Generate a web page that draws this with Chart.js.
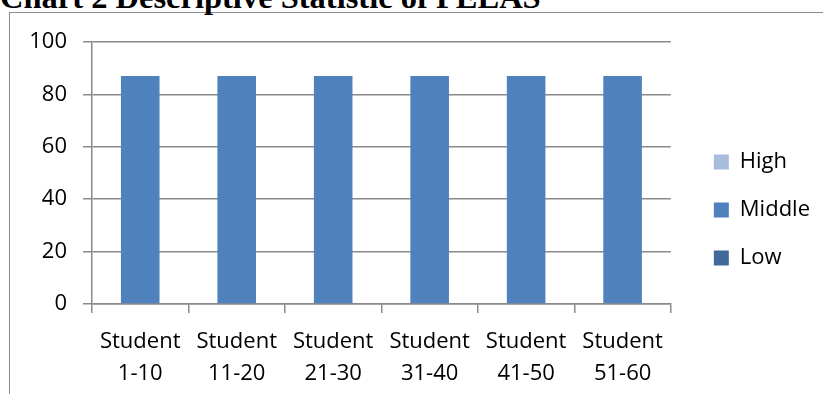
<!DOCTYPE html>
<html>
<head>
<meta charset="utf-8">
<script src="https://cdn.jsdelivr.net/npm/chart.js@4/dist/chart.umd.min.js"></script>
<style>
  html, body { margin: 0; padding: 0; background: #fff; overflow: hidden; }
  #wrap { position: relative; width: 823px; height: 394px; overflow: hidden; }
  #frame {
    position: absolute; left: 9px; top: 12px; width: 900px; height: 500px;
    border-left: 1.5px solid #8c8c8c; border-top: 1.5px solid #8c8c8c;
  }
  #title {
    position: absolute; left: 0; top: -19px; margin: 0;
    font: bold 32.5px "Liberation Serif", "Times New Roman", serif;
    line-height: 1; white-space: nowrap; color: #000;
  }
  #chart { position: absolute; left: 0; top: 0; }
</style>
</head>
<body>
<div id="wrap">
  <div id="frame"></div>
  <div id="title">Chart 2 Descriptive Statistic of PELAS</div>
  <canvas id="chart" width="823" height="394"></canvas>
</div>
<script>
// Student groups along the x axis
const groups = ['1-10', '11-20', '21-30', '31-40', '41-50', '51-60'];
const categories = groups.map(g => ['Student', g]);

// PELAS score levels per group (stacked)
const lowValues    = [0, 0, 0, 0, 0, 0];
const middleValues = [87, 87, 87, 87, 87, 87];
const highValues   = [0, 0, 0, 0, 0, 0];

// Value axis
const yMin = 0, yMax = 100, yStep = 20;

const gridColor = '#8a8a8a';
const labelFont = { family: '"Open Sans", sans-serif', size: 22, lineHeight: 1.45 };

// invisible axis used only to reserve space next to the plot
const spacer = (position, size) => ({
  type: 'linear',
  position,
  display: true,
  grid: { display: false },
  border: { display: false },
  ticks: { display: false },
  afterFit(s) {
    if (position === 'top' || position === 'bottom') s.height = size; else s.width = size;
  }
});

new Chart(document.getElementById('chart'), {
  type: 'bar',
  data: {
    labels: categories,
    datasets: [
      { label: 'Low',    data: lowValues,    backgroundColor: '#41699c', borderWidth: 0 },
      { label: 'Middle', data: middleValues, backgroundColor: '#4f81bd', borderWidth: 0 },
      { label: 'High',   data: highValues,   backgroundColor: '#aabcdb', borderWidth: 0 }
    ]
  },
  options: {
    responsive: false,
    animation: false,
    events: [],
    layout: { padding: { left: 0, top: 26, right: 3, bottom: 0 } },
    datasets: { bar: { categoryPercentage: 1, barPercentage: 0.4 } },
    plugins: {
      tooltip: { enabled: false },
      title: { display: false },
      legend: {
        position: 'right',
        reverse: true,
        labels: {
          boxWidth: 15, boxHeight: 15, padding: 26,
          color: '#000', font: labelFont
        }
      }
    },
    scales: {
      x: {
        stacked: true,
        offset: true,
        grid: { display: true, offset: true, drawOnChartArea: false, tickLength: 9, color: gridColor, lineWidth: 1.5 },
        border: { display: true, color: gridColor, width: 1.5 },
        ticks: { color: '#000', font: labelFont, padding: 13, maxRotation: 0, autoSkip: false },
        afterFit(s) { s.height = 90; }
      },
      y: {
        stacked: true,
        min: yMin, max: yMax,
        grid: { color: gridColor, lineWidth: 1.5, tickLength: 9 },
        border: { display: true, color: gridColor, width: 1.5 },
        ticks: { stepSize: yStep, color: '#000', font: labelFont, padding: 16 },
        afterFit(s) { s.width = 92; }
      },
      gapTop: spacer('top', 16),
      gapRight: spacer('right', 17)
    }
  }
});
</script>
</body>
</html>
